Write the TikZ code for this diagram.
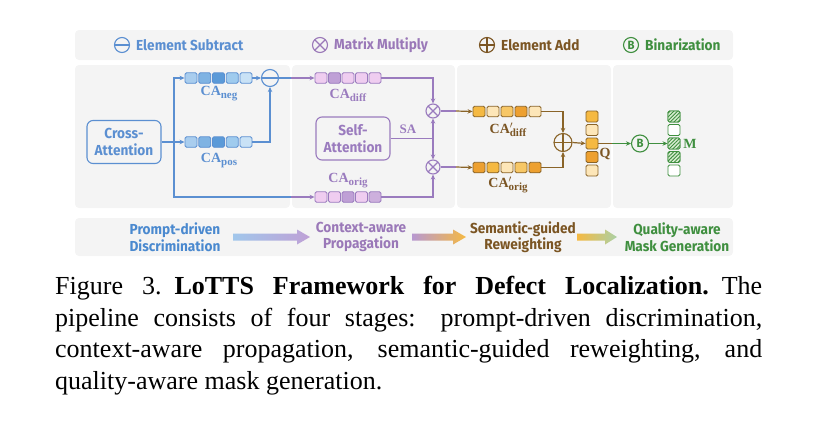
\documentclass[tikz,border=0pt]{standalone}
\usepackage{fontspec}
\setmainfont{Liberation Serif}
\newfontfamily\dfont[FakeStretch=0.94]{Fira Sans}
\usetikzlibrary{arrows.meta,patterns.meta,calc}
\definecolor{pgray}{HTML}{F4F4F4}
\definecolor{bl}{HTML}{5B8FD1}
\definecolor{blt}{HTML}{4A89CF}
\definecolor{bA}{HTML}{A9CDEE}
\definecolor{bB}{HTML}{7FB3E3}
\definecolor{bC}{HTML}{5B9AD8}
\definecolor{bD}{HTML}{9FCBEE}
\definecolor{bE}{HTML}{C9E2F6}
\definecolor{pu}{HTML}{9A7BBE}
\definecolor{put}{HTML}{9A78B8}
\definecolor{pA}{HTML}{EFCDF0}
\definecolor{pB}{HTML}{CDB0DD}
\definecolor{pC}{HTML}{BFA0D6}
\definecolor{br}{HTML}{8A6428}
\definecolor{brt}{HTML}{7B5523}
\definecolor{oA}{HTML}{F5B942}
\definecolor{oB}{HTML}{FDE6B8}
\definecolor{oC}{HTML}{EDA030}
\definecolor{oD}{HTML}{F7C766}
\definecolor{gr}{HTML}{3F8F3F}
\definecolor{grl}{HTML}{D9EDD2}
\newcommand\calab[1]{{\fontsize{14}{14}\selectfont\bfseries CA\raisebox{-3pt}{\fontsize{11}{11}\selectfont #1}}}
\newcommand\calabp[1]{{\fontsize{14}{14}\selectfont\bfseries CA\rlap{$'$}\raisebox{-3pt}{\fontsize{11}{11}\selectfont #1}}}
\begin{document}
\begin{tikzpicture}[x=1pt,y=-1pt,
  panel/.style={fill=pgray,draw=none,rounded corners=4pt},
  cell/.style={draw=#1,line width=0.9pt,rounded corners=1.5pt,minimum width=12pt,minimum height=10.5pt,inner sep=0pt},
  vcell/.style={cell=#1,minimum height=11pt},
  opc/.style={circle,draw=#1,line width=1.1pt,inner sep=0pt},
  minus/.style={opc=#1,minimum size=17pt,path picture={\draw[#1,line width=1.1pt] (path picture bounding box.west) -- (path picture bounding box.east);}},
  plus/.style={opc=#1,minimum size=18pt,path picture={\draw[#1,line width=1.1pt] (path picture bounding box.west) -- (path picture bounding box.east) (path picture bounding box.north) -- (path picture bounding box.south);}},
  times/.style={opc=#1,minimum size=14pt,path picture={\draw[#1,line width=1.1pt] (path picture bounding box.north west) -- (path picture bounding box.south east) (path picture bounding box.north east) -- (path picture bounding box.south west);}},
  bino/.style={opc=#1,minimum size=17pt,text=#1,font={\dfont\bfseries\fontsize{12}{12}\selectfont}},
  box/.style={draw=#1,text=#1,rounded corners=6pt,line width=1.1pt,minimum width=74pt,minimum height=43pt,align=center,font={\dfont\bfseries\fontsize{14.5}{16.5}\selectfont}},
  leg/.style={anchor=west,inner sep=0pt,font={\dfont\bfseries\fontsize{14.5}{16}\selectfont}},
  stage/.style={align=center,inner sep=0pt,font={\dfont\bfseries\fontsize{14.5}{16.5}\selectfont}},
  con/.style={#1,line width=1.2pt},
  arr/.style={#1,line width=1.2pt,-{Stealth[length=5pt,width=4.5pt]}},
  lab/.style={inner sep=0pt}
]
\useasboundingbox (0,0) rectangle (819,432);
% panels
\fill[panel] (75,30) rectangle (733,60);
\fill[panel] (75,65) rectangle (290,208);
\fill[panel] (292,65) rectangle (455,208);
\fill[panel] (457,65) rectangle (611,208);
\fill[panel] (613,65) rectangle (733,208);
\fill[panel] (75,218) rectangle (733,256);
% legend
\node[minus=bl,minimum size=15pt] (lsub) at (122,45) {};
\node[leg,text=bl] (lsubt) at (136,45) {Element Subtract};
\node[times=put,minimum size=15pt] (lmul) at (320,45) {};
\node[leg,text=put] (lmult) at (334,45) {Matrix Multiply};
\node[plus=brt,minimum size=15pt] (ladd) at (487,45) {};
\node[leg,text=brt] (laddt) at (501,45) {Element Add};
\node[bino=gr,minimum size=15pt] (lbin) at (631,45) {B};
\node[leg,text=gr] (lbint) at (645,45) {Binarization};
% column 1
\node[box=bl] (ca) at (124,142) {Cross-\\Attention};
\foreach \c [count=\i] in {bA,bB,bC,bD,bE}
  \node[cell=bl,fill=\c] (neg\i) at ({191+(\i-1)*13.75},78) {};
\foreach \c [count=\i] in {bA,bB,bC,bD,bE}
  \node[cell=bl,fill=\c] (pos\i) at ({191+(\i-1)*13.75},142) {};
\node[lab,text=bl] (lneg) at (219,94) {\calab{neg}};
\node[lab,text=bl] (lpos) at (219,161) {\calab{pos}};
\node[minus=bl] (sub) at (270,78) {};
\coordinate (brn) at (174,142);
% column 2
\foreach \c [count=\i] in {pA,pC,pA,pA,pA}
  \node[cell=pu,fill=\c] (diff\i) at ({321+(\i-1)*13.5},78) {};
\foreach \c [count=\i] in {pA,pA,pC,pA,pB}
  \node[cell=pu,fill=\c] (orig\i) at ({321+(\i-1)*13.5},197) {};
\node[lab,text=pu] (ldiff) at (348,95) {\calab{diff}};
\node[lab,text=pu] (lorig) at (348,181) {\calab{orig}};
\node[box=pu] (sa) at (353,138.5) {Self-\\Attention};
\node[times=pu] (mul1) at (433,111) {};
\node[times=pu] (mul2) at (433,167) {};
\coordinate (sj) at (433,138.5);
\node[lab,text=pu,font={\bfseries\fontsize{13}{13}\selectfont}] (lsa) at (408,129) {SA};
% column 3
\foreach \c [count=\i] in {oA,oB,oD,oC,oB}
  \node[cell=br,fill=\c] (dp\i) at ({479+(\i-1)*14},111.5) {};
\foreach \c [count=\i] in {oC,oA,oB,oD,oC}
  \node[cell=br,fill=\c] (op\i) at ({479+(\i-1)*14},167.5) {};
\node[lab,text=brt] (ldp) at (508,130) {\calabp{diff}};
\node[lab,text=brt] (lop) at (508,185) {\calabp{orig}};
\node[plus=br] (add) at (563,142.5) {};
\foreach \c [count=\i] in {oA,oB,oA,oC,oB}
  \node[vcell=br,fill=\c] (q\i) at (592,{116.5+(\i-1)*13.5}) {};
\node[lab,text=brt,font={\bfseries\fontsize{14}{14}\selectfont}] (lq) at (605,154) {Q};
% column 4
\node[bino=gr] (bin) at (640,143.5) {B};
\foreach \h [count=\i] in {1,0,1,1,0}
  \node[vcell=gr,fill=white] (m\i) at (674,{116.5+(\i-1)*13.5}) {};
\foreach \i in {1,3,4}
  \node[vcell=gr,fill=grl,postaction={pattern={Lines[angle=45,distance=2.6pt,line width=0.9pt]},pattern color=gr}] at (m\i) {};
\node[lab,text=gr,font={\bfseries\fontsize{14}{14}\selectfont}] (lm) at (690,143.5) {M};
% connectors column 1
\draw[arr=bl] (ca.east) -- (pos1.west);
\draw[arr=bl] (brn) |- (neg1.west);
\draw[con=bl] (brn) |- (291,197) coordinate (c1b);
\draw[arr=pu] (c1b) -- (orig1.west);
\draw[arr=bl] (neg5.east) -- (sub.west);
\draw[arr=bl] (pos5.east) -| (sub.south);
\draw[con=bl] (sub.east) -- (291,78) coordinate (c1a);
\draw[arr=pu] (c1a) -- (diff1.west);
% column 2
\draw[arr=pu] (diff5.east) -| (mul1.north);
\draw[arr=pu] (orig5.east) -| (mul2.south);
\draw[con=pu] (sa.east) -- (sj);
\draw[arr=pu] (sj) -- (mul1.south);
\draw[arr=pu] (sj) -- (mul2.north);
\draw[con=pu] (mul1.east) -- (456,111) coordinate (c2a);
\draw[arr=br] (c2a) -- (dp1.west);
\draw[con=pu] (mul2.east) -- (456,167) coordinate (c2b);
\draw[arr=br] (c2b) -- (op1.west);
% column 3
\draw[arr=br] (dp5.east) -| (add.north);
\draw[arr=br] (op5.east) -| (add.south);
\draw[arr=br] (add.east) -- (q3.west);
\draw[con=br] (q3.east) -- (612,143.5) coordinate (c3a);
\draw[arr=gr] (c3a) -- (bin.west);
\draw[arr=gr] (bin.east) -- (m3.west);
% bottom stages
\node[stage,text=blt] (s1) at (175,237) {Prompt-driven\\Discrimination};
\node[stage,text=put] (s2) at (361,237) {Context-aware\\Propagation};
\node[stage,text=brt] (s3) at (523,237) {Semantic-guided\\Reweighting};
\node[stage,text=gr] (s4) at (677,237) {Quality-aware\\Mask Generation};
\shade[left color=bA!90!bl, right color=pC] (233,233.5) -- (297,233.5) -- (297,229.5) -- (310,237) -- (297,244.5) -- (297,240.5) -- (233,240.5) -- cycle;
\shade[left color=pC!80!pu, right color=oA] (412,233.5) -- (453,233.5) -- (453,229.5) -- (466,237) -- (453,244.5) -- (453,240.5) -- (412,240.5) -- cycle;
\shade[left color=oA, right color=grl!70!gr] (577,233.5) -- (605,233.5) -- (605,229.5) -- (617,237) -- (605,244.5) -- (605,240.5) -- (577,240.5) -- cycle;
% caption
\node[anchor=north west,text width=707pt,inner sep=0pt,align=justify,font={\fontsize{26}{31.7}\selectfont}] (cap) at (55,276) {Figure 3.\hspace{0.5em}\textbf{LoTTS Framework for Defect Localization.}\hspace{0.5em}The\linebreak pipeline consists of four stages: prompt-driven discrimination,\linebreak context-aware propagation, semantic-guided reweighting, and\linebreak quality-aware mask generation.};
\end{tikzpicture}
\end{document}
